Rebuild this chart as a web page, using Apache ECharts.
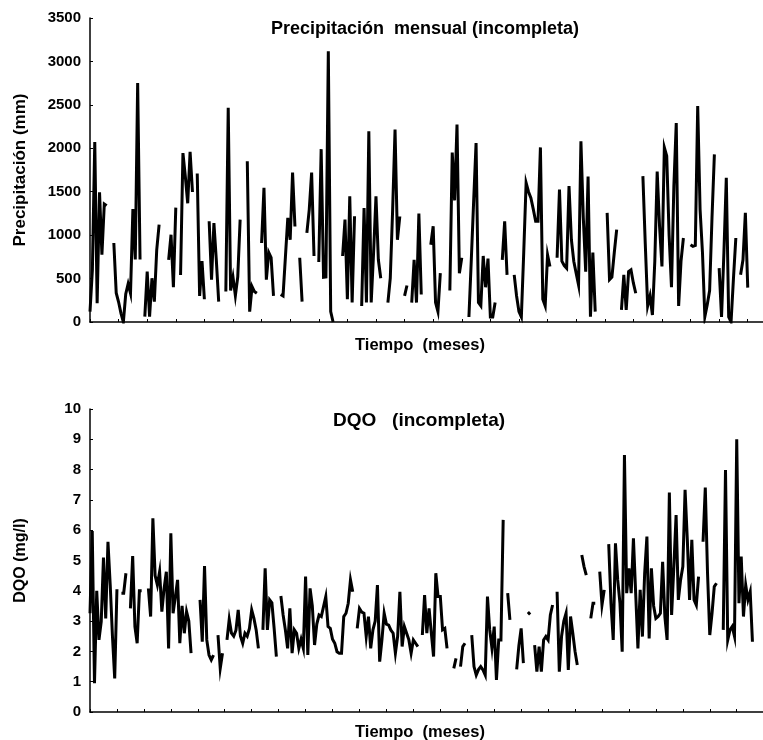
<!DOCTYPE html>
<html><head><meta charset="utf-8">
<script src="https://cdn.jsdelivr.net/npm/echarts@6/dist/echarts.min.js"></script>
<style>html,body{margin:0;padding:0;background:#fff}#c{width:763px;height:740px}</style>
</head><body><div id="c"></div>
<script>
// Monthly precipitation (mm), one value per month, null = missing
const precipitacion = [
119,600,2071,216,1494,774,1359,1340,null,null,
909,335,230,100,0,323,440,330,1300,720,
2750,720,null,62,581,62,504,235,832,1120,
null,null,null,716,1005,400,1317,null,542,1945,
1675,1367,1960,1497,null,1710,300,700,262,null,
1160,488,1140,716,235,null,null,350,2467,362,
516,304,520,1179,null,null,1850,119,408,350,
331,null,909,1545,488,800,740,300,null,null,
316,300,750,1198,947,1720,1100,null,740,235,
null,1025,1294,1720,760,null,690,1990,516,520,
3118,119,0,null,null,null,760,1179,262,1448,
224,1217,null,null,185,1313,224,2197,224,800,
1448,716,504,null,null,224,504,1300,2217,947,
1217,null,300,420,null,224,716,224,1250,316,
null,null,null,890,1102,224,119,562,null,null,
null,362,1950,1400,2274,562,740,null,null,58,
716,1400,2060,224,185,760,400,731,58,58,
224,null,null,716,1160,543,null,null,543,300,
119,58,800,1602,1500,1429,1300,1160,1160,2010,
262,185,774,639,null,null,740,1525,700,650,
620,1564,947,700,562,427,2081,1200,580,1675,
62,800,119,null,null,null,null,1256,488,516,
800,1064,null,139,543,139,581,600,450,331,
null,null,1679,900,185,300,81,700,1733,1100,
639,2010,1911,1000,400,1564,2290,185,700,967,
null,null,890,870,880,2487,1294,800,62,200,
362,1200,1930,null,620,58,800,1660,58,0,
500,967,null,543,716,1256,396
];
// Monthly DQO (mg/l), null = missing
const dqo = [
3.26,5.97,0.95,4.0,2.38,2.98,5.1,3.09,5.62,4.2,
2.5,1.11,4.05,null,3.92,3.92,4.58,null,3.42,5.15,
2.82,2.27,4.0,4.0,null,null,4.08,3.15,6.39,4.5,
4.19,4.63,3.31,4.08,4.63,2.1,5.9,3.26,3.8,4.36,
2.27,3.5,2.6,3.31,3.0,1.94,null,null,null,3.7,
2.32,4.82,2.38,1.88,1.72,1.88,null,2.54,1.44,1.94,
null,2.38,3.06,2.6,2.5,2.7,3.37,2.5,2.27,2.6,
2.5,2.76,3.37,3.09,2.71,2.1,null,2.71,4.74,2.71,
3.7,3.6,2.76,1.83,null,3.83,3.2,2.71,2.1,3.42,
1.94,2.71,2.6,2.1,2.4,2.1,4.47,1.88,4.08,3.5,
2.21,2.9,3.2,3.15,3.48,3.81,2.82,2.76,2.4,2.27,
1.99,1.94,1.94,3.15,3.26,3.59,4.36,3.97,null,2.76,
3.42,3.3,3.26,2.49,3.15,2.1,2.71,3.0,4.19,1.66,
2.38,3.26,2.9,2.87,2.7,2.6,1.94,2.5,3.97,2.16,
2.82,2.6,2.38,1.94,2.38,2.27,2.16,null,2.54,3.86,
2.6,3.42,2.6,1.83,4.58,3.81,3.81,2.71,2.76,2.1,
null,null,1.44,1.77,null,1.5,2.16,2.27,null,null,
2.54,1.5,1.22,1.4,1.5,1.39,1.22,3.81,2.71,2.1,
2.82,1.06,2.38,2.38,6.34,null,3.92,3.04,null,null,
1.41,2.2,2.76,1.61,null,3.3,3.22,null,2.21,1.33,
2.16,1.33,2.38,2.49,2.38,3.2,3.53,null,3.97,1.33,
2.5,3.0,3.26,1.39,3.15,2.6,2.0,1.55,null,5.18,
4.8,4.52,null,3.09,3.59,3.59,null,4.63,3.53,4.03,
null,5.54,3.59,2.38,5.57,4.36,3.59,1.99,8.48,3.92,
4.74,3.92,5.73,3.92,2.1,4.03,2.49,4.58,5.79,2.43,
4.74,3.5,3.09,3.15,3.26,4.96,3.15,2.38,7.24,3.2,
4.8,6.5,3.7,4.36,4.8,7.33,5.68,3.7,5.68,3.7,
3.53,4.47,null,5.62,7.41,4.58,2.54,3.26,4.14,4.25,
null,null,2.71,7.99,2.38,2.71,2.82,2.5,9.0,3.59,
5.13,3.15,4.19,3.7,3.97,2.32
];
const precipTicks = [0,3500,500];
const dqoTicks = [0,10,1];
const titles = ['Precipitación  mensual (incompleta)', 'DQO   (incompleta)'];
const xName = 'Tiempo  (meses)';
const yNames = ['Precipitación (mm)', 'DQO (mg/l)'];

const FONT = '"Liberation Sans", Arial, sans-serif';
const toPairs = arr => arr.map((v, i) => [i, v === null ? '-' : v]);

const chart = echarts.init(document.getElementById('c'), null, {renderer: 'canvas'});
const axisLine = {show: true, lineStyle: {color: '#000', width: 1.5}};
const tick = {show: true, inside: true, length: 3, lineStyle: {color: '#000', width: 1}};
const ylab = {color: '#000', fontFamily: FONT, fontWeight: 'bold', fontSize: 15, margin: 9, formatter: v => String(v)};

chart.setOption({
  animation: false,
  backgroundColor: '#fff',
  grid: [
    {left: 90, top: 18, right: 0, height: 304},
    {left: 90, top: 409, right: 0, height: 303}
  ],
  xAxis: [
    {gridIndex: 0, type: 'value', min: 0, max: 282.4, interval: 12,
     axisLine: axisLine, axisTick: tick, axisLabel: {show: false}, splitLine: {show: false}},
    {gridIndex: 1, type: 'value', min: 0, max: 299.7, interval: 12,
     axisLine: axisLine, axisTick: tick, axisLabel: {show: false}, splitLine: {show: false}}
  ],
  yAxis: [
    {gridIndex: 0, type: 'value', min: precipTicks[0], max: precipTicks[1], interval: precipTicks[2],
     axisLine: axisLine, axisTick: tick, axisLabel: ylab, splitLine: {show: false},
     name: yNames[0], nameLocation: 'middle', nameGap: 61,
     nameTextStyle: {color: '#000', fontFamily: FONT, fontWeight: 'bold', fontSize: 17}},
    {gridIndex: 1, type: 'value', min: dqoTicks[0], max: dqoTicks[1], interval: dqoTicks[2],
     axisLine: axisLine, axisTick: tick, axisLabel: ylab, splitLine: {show: false},
     name: yNames[1], nameLocation: 'middle', nameGap: 61,
     nameTextStyle: {color: '#000', fontFamily: FONT, fontWeight: 'bold', fontSize: 16}}
  ],
  graphic: [
    {type: 'text', x: 425, y: 29, style: {text: titles[0], fill: '#000', font: 'bold 18px ' + FONT, textAlign: 'center', textVerticalAlign: 'middle'}},
    {type: 'text', x: 419, y: 421, style: {text: titles[1], fill: '#000', font: 'bold 19px ' + FONT, textAlign: 'center', textVerticalAlign: 'middle'}},
    {type: 'text', x: 420, y: 345, style: {text: xName, fill: '#000', font: 'bold 16.5px ' + FONT, textAlign: 'center', textVerticalAlign: 'middle'}},
    {type: 'text', x: 420, y: 732, style: {text: xName, fill: '#000', font: 'bold 16.5px ' + FONT, textAlign: 'center', textVerticalAlign: 'middle'}}
  ],
  series: [
    {type: 'line', xAxisIndex: 0, yAxisIndex: 0, data: toPairs(precipitacion), showSymbol: false, connectNulls: false,
     lineStyle: {color: '#000', width: 3, join: 'miter'}, itemStyle: {color: '#000'}},
    {type: 'line', xAxisIndex: 1, yAxisIndex: 1, data: toPairs(dqo), showSymbol: false, connectNulls: false,
     lineStyle: {color: '#000', width: 3, join: 'miter'}, itemStyle: {color: '#000'}}
  ]
});
</script></body></html>
